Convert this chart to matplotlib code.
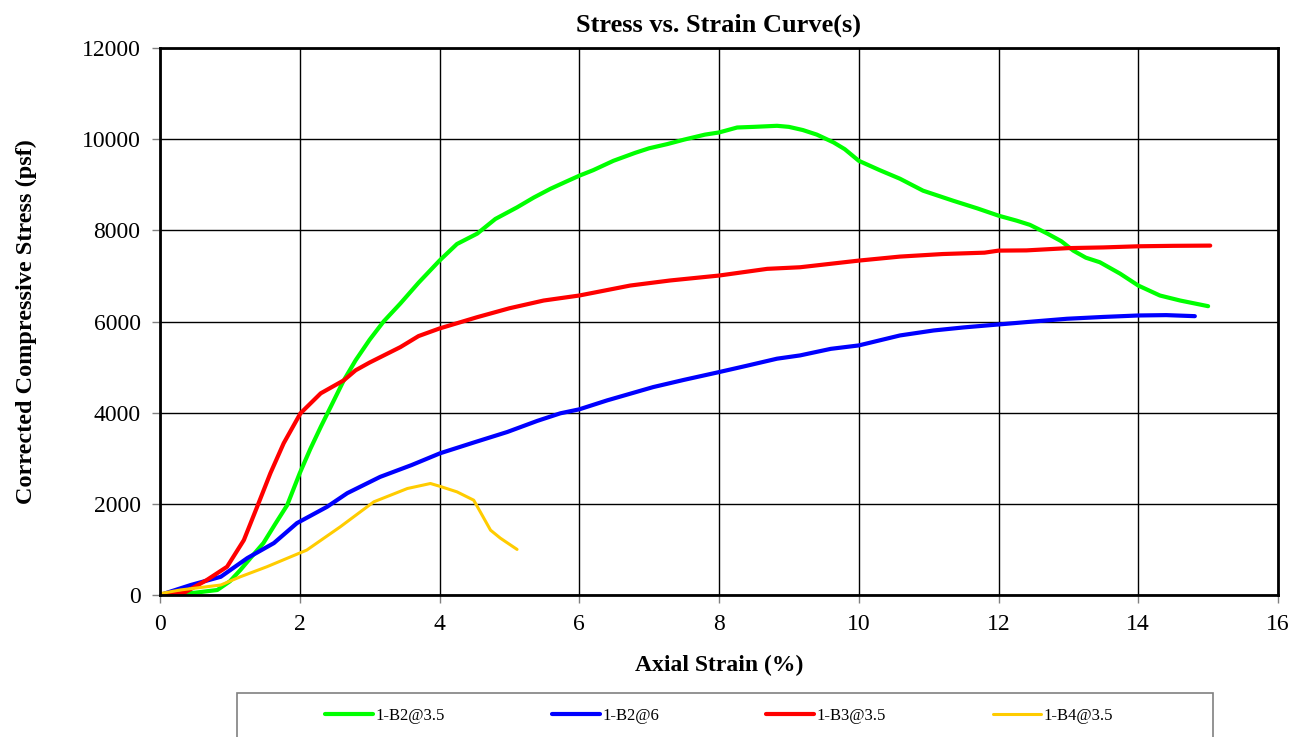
import matplotlib
matplotlib.use("Agg")
import matplotlib.pyplot as plt
from matplotlib.patches import Rectangle

plt.rcParams['font.family'] = ['Liberation Serif', 'DejaVu Serif']

# ---- data ----
g_x = [0, 0.5, 0.82, 1.0, 1.15, 1.3, 1.48, 1.65, 1.82, 2.0, 2.15, 2.3, 2.45, 2.63, 2.8, 3.0, 3.2, 3.44,
       3.7, 4.0, 4.25, 4.54, 4.8, 5.11, 5.35, 5.59, 5.8, 6.0, 6.2, 6.49, 6.8, 7.0, 7.26, 7.5, 7.8, 8.0,
       8.26, 8.5, 8.83, 9.0, 9.2, 9.4, 9.64, 9.8, 10.0, 10.3, 10.59, 10.92, 11.35, 11.7, 12.0, 12.26,
       12.45, 12.7, 12.9, 13.07, 13.25, 13.45, 13.74, 14.0, 14.31, 14.6, 15.0]
g_y = [0, 50, 110, 300, 548, 820, 1139, 1560, 1971, 2672, 3200, 3686, 4150, 4709, 5150, 5600, 6000, 6395,
       6850, 7336, 7700, 7928, 8250, 8504, 8720, 8913, 9060, 9198, 9320, 9526, 9700, 9800, 9892, 9990, 10100, 10147,
       10256, 10270, 10293, 10270, 10200, 10100, 9928, 9780, 9526, 9320, 9132, 8870, 8650, 8480, 8322, 8212,
       8120, 7928, 7760, 7555, 7400, 7300, 7050, 6789, 6570, 6460, 6336]

b_x = [0, 0.2, 0.44, 0.87, 1.25, 1.63, 1.96, 2.39, 2.68, 3.15, 3.6, 4.01, 4.5, 4.97, 5.4, 5.73, 6.0, 6.4,
       7.06, 7.5, 8.0, 8.4, 8.83, 9.16, 9.6, 10.0, 10.59, 11.07, 11.5, 12.0, 12.5, 12.98, 13.5, 14.0, 14.4, 14.81]
b_y = [0, 100, 219, 400, 810, 1139, 1577, 1934, 2234, 2591, 2850, 3110, 3350, 3576, 3820, 3986, 4073, 4270,
       4562, 4720, 4890, 5030, 5184, 5256, 5400, 5475, 5694, 5803, 5870, 5935, 6000, 6060, 6100, 6132, 6140, 6117]

r_x = [0, 0.34, 0.67, 0.96, 1.2, 1.39, 1.58, 1.77, 2.01, 2.3, 2.63, 2.8, 3.0, 3.44, 3.7, 4.0, 4.54, 5.0,
       5.49, 6.0, 6.73, 7.3, 8.0, 8.69, 9.16, 10.0, 10.59, 11.2, 11.8, 12.0, 12.4, 13.0, 13.5, 14.0, 14.5, 15.03]
r_y = [0, 44, 329, 620, 1204, 1934, 2672, 3329, 3986, 4424, 4709, 4930, 5100, 5438, 5680, 5847, 6095, 6290,
       6460, 6570, 6789, 6900, 7008, 7155, 7190, 7336, 7424, 7480, 7510, 7555, 7560, 7610, 7625, 7650, 7660, 7665]

y_x = [0, 0.29, 0.87, 1.15, 1.53, 2.1, 2.58, 3.06, 3.54, 3.87, 4.0, 4.25, 4.49, 4.73, 4.87, 5.11]
y_y = [30, 110, 219, 400, 620, 985, 1496, 2044, 2336, 2446, 2387, 2263, 2080, 1423, 1248, 1000]

labels = ['1-B2@3.5', '1-B2@6', '1-B3@3.5', '1-B4@3.5']
colors = ['#00FF00', '#0000FF', '#FF0000', '#FFCC00']
x_ticks = [0, 2, 4, 6, 8, 10, 12, 14, 16]
y_ticks = [0, 2000, 4000, 6000, 8000, 10000, 12000]

fig = plt.figure(figsize=(13, 7.37), dpi=100)
ax = fig.add_axes([160/1300, 1-595/737, (1278-160)/1300, (595-48)/737])

series = [(g_x, g_y), (b_x, b_y), (r_x, r_y), (y_x, y_y)]
handles = []
for (xs, ys), lab, c in zip(series, labels, colors):
    lw = 2.2 if c == '#FFCC00' else 3.0
    h, = ax.plot(xs, ys, color=c, lw=lw, label=lab, solid_capstyle='round', solid_joinstyle='round')
    handles.append(h)

ax.set_xlim(0, 16)
ax.set_ylim(0, 12000)
ax.set_xticks(x_ticks)
ax.set_yticks(y_ticks)
ax.grid(True, color='black', lw=1.0)
ax.set_axisbelow(True)
for s in ax.spines.values():
    s.set_linewidth(2.0)
    s.set_color('black')
ax.tick_params(axis='both', direction='out', length=6, width=1, color='#808080', labelsize=17, pad=8)
ax.set_xlabel('Axial Strain (%)', fontsize=17, fontweight='bold', labelpad=14)
ax.set_ylabel('Corrected Compressive Stress (psf)', fontsize=17.5, fontweight='bold', labelpad=32)
ax.set_title('Stress vs. Strain Curve(s)', fontsize=19, fontweight='bold', pad=12)

# legend box (extends below the figure bottom)
fig.patches.append(Rectangle((237/1300, -0.05), (1213-237)/1300, (737-693)/737 + 0.05,
                             transform=fig.transFigure, fill=False, edgecolor='#808080', lw=1.2))
fig.legend(handles=handles, labels=labels, loc='center', bbox_to_anchor=(719/1300, 1-716/737),
           ncol=4, frameon=False, fontsize=12, handlelength=2.9, columnspacing=6.4, handletextpad=0.15)

fig.savefig('out.png', dpi=100)
